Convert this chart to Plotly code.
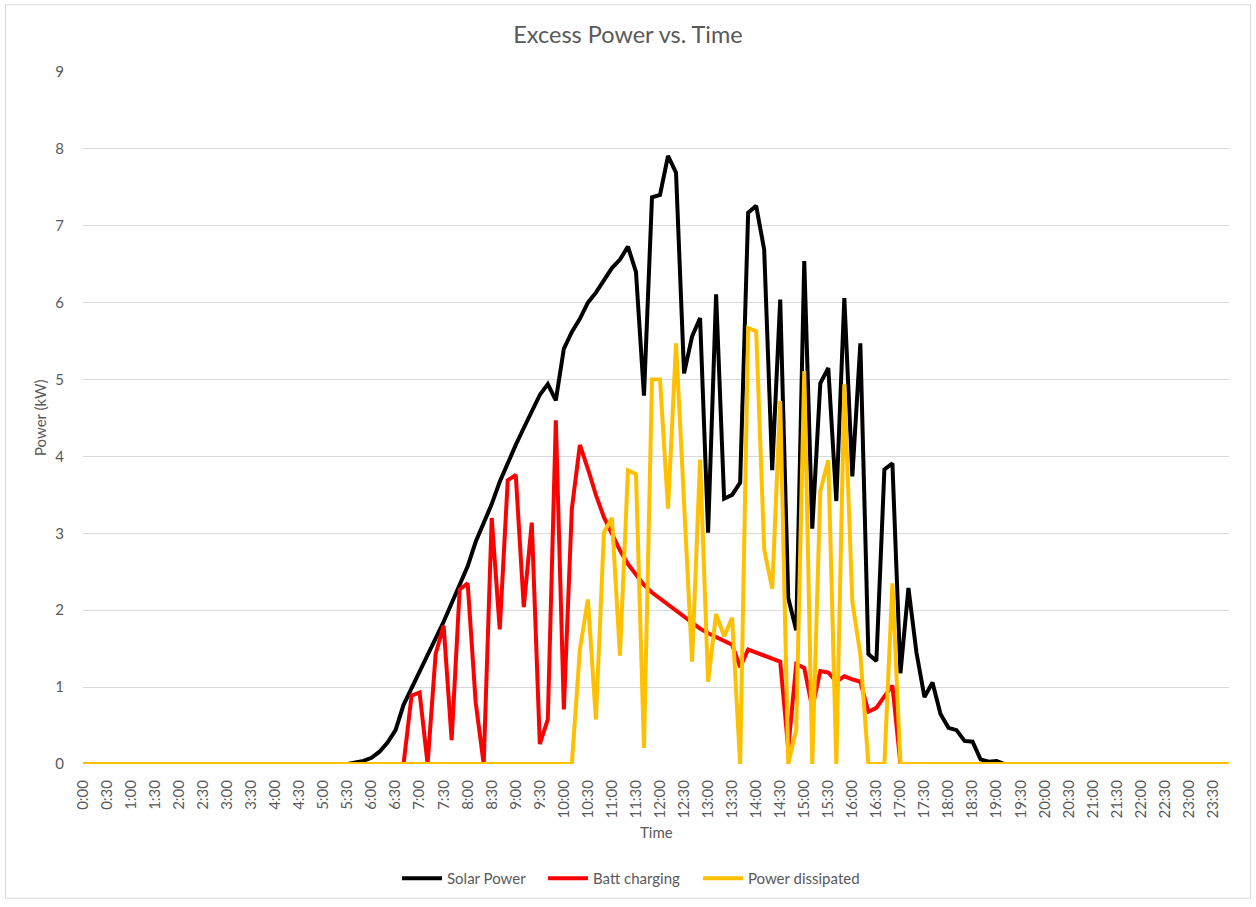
import plotly.graph_objects as go

# 10-minute categories, 0:00 .. 23:50
times = [f"{h}:{m:02d}" for h in range(24) for m in range(0, 60, 10)]
tick_labels = times[::3]

solar_power = [0.0] * 33 + [
    0.0, 0.02, 0.04, 0.08, 0.16, 0.28, 0.44, 0.77, 0.98, 1.20,
    1.42, 1.63, 1.85, 2.09, 2.33, 2.57, 2.89, 3.12, 3.38, 3.67,
    3.92, 4.15, 4.37, 4.58, 4.80, 4.94, 4.73, 5.40, 5.62, 5.79,
    6.00, 6.13, 6.28, 6.45, 6.56, 6.73, 6.40, 4.79, 7.37, 7.40,
    7.91, 7.69, 5.08, 5.56, 5.80, 3.01, 6.11, 3.45, 3.50, 3.66,
    7.17, 7.26, 6.69, 3.82, 6.04, 2.16, 1.74, 6.54, 3.06, 4.95,
    5.15, 3.42, 6.06, 3.74, 5.47, 1.43, 1.34, 3.83, 3.91, 1.18,
    2.29, 1.45, 0.87, 1.06, 0.65, 0.47, 0.44, 0.30, 0.29, 0.06,
    0.03, 0.04,
] + [0.0] * 29

batt_charging = [0.0] * 41 + [
    0.89, 0.93, 0.0, 1.43, 1.80, 0.31, 2.27, 2.35, 0.80, 0.0,
    3.20, 1.75, 3.69, 3.76, 2.04, 3.14, 0.26, 0.58, 4.47, 0.71,
    3.32, 4.15, 3.84, 3.50, 3.21, 2.98, 2.78, 2.60, 2.46, 2.33,
    2.23, 2.15, 2.07, 1.99, 1.91, 1.83, 1.76, 1.70, 1.65, 1.60,
    1.55, 1.26, 1.49, 1.45, 1.41, 1.37, 1.33, 0.20, 1.30, 1.25,
    0.73, 1.21, 1.19, 1.07, 1.14, 1.10, 1.07, 0.68, 0.73, 0.88,
    1.02,
] + [0.0] * 42

power_dissipated = [0.0] * 62 + [
    1.49, 2.14, 0.58, 3.01, 3.20, 1.41, 3.82, 3.77, 0.21, 5.00,
    5.00, 3.32, 5.47, 3.40, 1.33, 3.96, 1.07, 1.95, 1.66, 1.90,
    0.0, 5.67, 5.63, 2.79, 2.28, 4.72, 0.0, 0.45, 5.11, 0.0,
    3.55, 3.95, 0.0, 4.94, 2.11, 1.42, 0.0, 0.0, 0.0, 2.35,
] + [0.0] * 42

series = [
    ("Solar Power", solar_power, "#000000"),
    ("Batt charging", batt_charging, "#FF0000"),
    ("Power dissipated", power_dissipated, "#FFC000"),
]

grey = "#595959"
font = "Lato, 'Open Sans', sans-serif"

# one legend box per series so each entry sits where the original has it
legend_ids = ["legend", "legend2", "legend3"]
legend_x = [0.2740, 0.4014, 0.5366]

fig = go.Figure()
for (name, vals, color), lg in zip(series, legend_ids):
    fig.add_trace(go.Scatter(
        x=times, y=vals, name=name, mode="lines",
        line=dict(color=color, width=4),
        cliponaxis=False, legend=lg,
    ))

legends = {}
for lg, lx in zip(legend_ids, legend_x):
    legends[lg] = dict(orientation="h", x=lx, xanchor="left",
                       y=-0.1655, yanchor="middle", itemwidth=40,
                       bgcolor="rgba(0,0,0,0)",
                       font=dict(size=15, color=grey))

fig.update_layout(
    width=1256, height=907,
    paper_bgcolor="white", plot_bgcolor="white",
    font=dict(family=font, color=grey, size=15),
    title=dict(text="Excess Power vs. Time", x=0.5, xref="container",
               y=1 - 35 / 907, yanchor="middle", xanchor="center",
               font=dict(size=23.5, color=grey)),
    margin=dict(l=83, r=27, t=72, b=140),
    showlegend=True,
    xaxis=dict(type="category", range=[0, 143], showgrid=False,
               tickmode="array", tickvals=tick_labels, ticktext=tick_labels,
               tickangle=-90, ticks="", showline=False, zeroline=False,
               ticklabelstandoff=12,
               tickfont=dict(size=15, color=grey), automargin=False),
    yaxis=dict(range=[0, 9], dtick=1, gridcolor="#D9D9D9", gridwidth=1,
               zeroline=False, showline=False, ticks="",
               ticklabelstandoff=18,
               tickfont=dict(size=15, color=grey), automargin=False),
    shapes=[dict(type="rect", xref="paper", yref="paper",
                 x0=-0.0676, x1=1.0188, y0=-0.194, y1=1.097,
                 line=dict(color="#D9D9D9", width=1), layer="below")],
    annotations=[
        dict(text="Time", xref="paper", yref="paper", x=0.5, y=-0.0978,
             showarrow=False, font=dict(size=15, color=grey),
             xanchor="center", yanchor="middle"),
        dict(text="Power (kW)", xref="paper", yref="paper", x=-0.0375, y=0.5,
             textangle=-90, showarrow=False, font=dict(size=15, color=grey),
             xanchor="center", yanchor="middle"),
    ],
    **legends,
)

fig.write_html("out.html", config={"displayModeBar": False},
               post_script="document.body.style.margin='0';")
